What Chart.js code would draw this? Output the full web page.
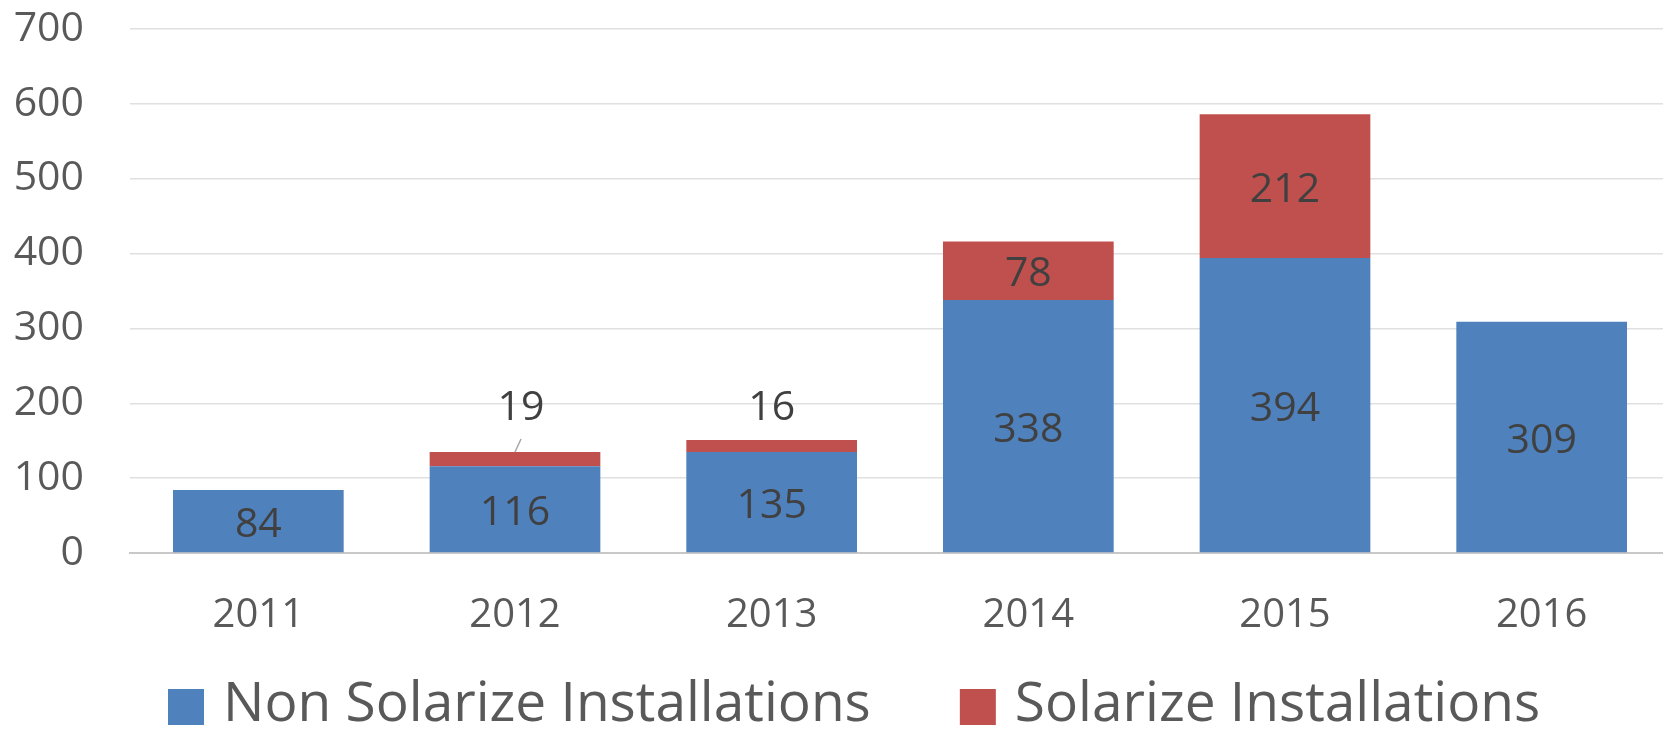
<!DOCTYPE html>
<html>
<head>
<meta charset="utf-8">
<script src="https://cdn.jsdelivr.net/npm/chart.js@4.4.1/dist/chart.umd.min.js"></script>
<style>
    html, body { margin: 0; padding: 0; background: #ffffff; overflow: hidden; }
    #wrap { width: 1670px; height: 731px; }
</style>
</head>
<body>
<div id="wrap"><canvas id="chart"></canvas></div>
<script>
// Data
const years = ['2011', '2012', '2013', '2014', '2015', '2016'];
const nonSolarize = [84, 116, 135, 338, 394, 309];
const solarize = [null, 19, 16, 78, 192, null];
const nonSolarizeLabels = ['84', '116', '135', '338', '394', '309'];
const solarizeLabels = ['', '19', '16', '78', '212', ''];
const yTicks = [0, 100, 200, 300, 400, 500, 600, 700];

const FONT = '"Open Sans", "Noto Sans", sans-serif';
const TEXT_GREY = '#595959';

// Value labels inside each segment (or above the bar for thin ones)
const segmentLabels = {
    id: 'segmentLabels',
    afterDatasetsDraw(chart, args, opts) {
        const ctx = chart.ctx;
        ctx.save();
        ctx.font = `41px ${FONT}`;
        ctx.fillStyle = '#404040';
        ctx.textAlign = 'center';
        ctx.textBaseline = 'middle';
        chart.data.datasets.forEach((ds, di) => {
            const meta = chart.getDatasetMeta(di);
            meta.data.forEach((bar, i) => {
                const text = ds.valueLabels[i];
                if (!text) return;
                const top = Math.min(bar.y, bar.base);
                const h = Math.abs(bar.base - bar.y);
                if (h > 30) {
                    ctx.fillText(text, bar.x, top + h / 2 + 4);
                    return;
                }
                // thin segment: label sits above the bar
                const off = (opts.outside && opts.outside[i]) || [0, -36];
                const lx = bar.x + off[0];
                const ly = top + off[1];
                ctx.fillText(text, lx, ly);
                if (off[0] !== 0) {
                    // leader line back to the segment
                    ctx.strokeStyle = '#a6a6a6';
                    ctx.lineWidth = 1.5;
                    ctx.beginPath();
                    ctx.moveTo(lx, ly + 31);
                    ctx.lineTo(bar.x, top);
                    ctx.stroke();
                }
            });
        });
        ctx.restore();
    }
};

// Legend row under the axis, square swatches like the original
const bottomLegend = {
    id: 'bottomLegend',
    afterDraw(chart, args, opts) {
        const ctx = chart.ctx;
        ctx.save();
        ctx.font = `${opts.fontSize}px ${FONT}`;
        ctx.textBaseline = 'middle';
        ctx.textAlign = 'left';
        let x = opts.x;
        chart.data.datasets.forEach(ds => {
            ctx.fillStyle = ds.backgroundColor;
            ctx.fillRect(x, opts.y - opts.box / 2, opts.box, opts.box);
            x += opts.box + opts.boxGap;
            ctx.fillStyle = TEXT_GREY;
            ctx.fillText(ds.label, x, opts.y - 2);
            x += ctx.measureText(ds.label).width + opts.itemGap;
        });
        ctx.restore();
    }
};

new Chart(document.getElementById('chart'), {
    type: 'bar',
    data: {
        labels: years,
        datasets: [
            {
                label: 'Non Solarize Installations',
                data: nonSolarize,
                valueLabels: nonSolarizeLabels,
                backgroundColor: '#4f81bd',
                borderWidth: 0,
                barPercentage: 0.665,
                categoryPercentage: 1
            },
            {
                label: 'Solarize Installations',
                data: solarize,
                valueLabels: solarizeLabels,
                backgroundColor: '#c0504d',
                borderWidth: 0,
                barPercentage: 0.665,
                categoryPercentage: 1
            }
        ]
    },
    plugins: [segmentLabels, bottomLegend],
    options: {
        responsive: true,
        maintainAspectRatio: false,
        animation: false,
        layout: {
            padding: { top: 29, left: 0, right: 0, bottom: 0 }
        },
        plugins: {
            legend: { display: false },
            tooltip: { enabled: false },
            segmentLabels: {
                outside: { 1: [6, -44], 2: [0, -32] }
            },
            bottomLegend: {
                x: 168, y: 707, box: 36, boxGap: 19, itemGap: 89, fontSize: 55
            }
        },
        scales: {
            x: {
                stacked: true,
                grid: { display: false, drawTicks: false },
                border: { display: true, color: '#c8c8c8', width: 2 },
                ticks: {
                    color: TEXT_GREY,
                    padding: 39,
                    font: { family: FONT, size: 40 }
                },
                afterFit(scale) {
                    scale.height = 178;
                }
            },
            y: {
                stacked: true,
                min: 0,
                max: 700,
                afterBuildTicks(scale) {
                    scale.ticks = yTicks.map(v => ({ value: v }));
                },
                grid: {
                    color: '#e0e0e0',
                    lineWidth: 1.5,
                    drawTicks: false
                },
                border: { display: false },
                ticks: {
                    color: TEXT_GREY,
                    padding: 46,
                    font: { family: FONT, size: 41 }
                },
                afterFit(scale) {
                    scale.width = 130;
                    scale.paddingTop = 0;
                    scale.paddingBottom = 0;
                }
            }
        }
    }
});
</script>
</body>
</html>
